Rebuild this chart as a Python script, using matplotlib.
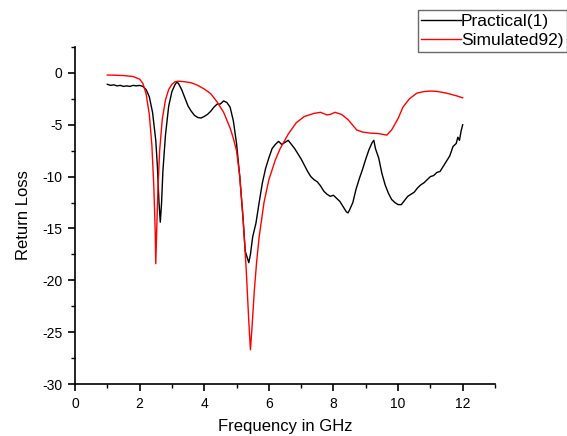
import matplotlib
matplotlib.use("Agg")
import matplotlib.pyplot as plt
from matplotlib.ticker import MultipleLocator

plt.rcParams['font.family'] = ['Liberation Sans', 'DejaVu Sans']
plt.rcParams['axes.unicode_minus'] = False

prac_x = [1.0, 1.1, 1.2, 1.3, 1.4, 1.5, 1.6, 1.7, 1.8, 1.9, 2.0, 2.1, 2.2, 2.3, 2.4, 2.5, 2.55, 2.6, 2.64,
          2.68, 2.72, 2.8, 2.9, 3.0, 3.1, 3.15, 3.2, 3.3, 3.4, 3.5, 3.6, 3.7, 3.8, 3.9, 4.0, 4.1, 4.2, 4.3,
          4.4, 4.5, 4.6, 4.7, 4.8, 4.9, 5.0, 5.1, 5.2, 5.27, 5.33, 5.38, 5.43, 5.5, 5.6, 5.7, 5.8, 5.9,
          6.0, 6.1, 6.2, 6.3, 6.4, 6.5, 6.6, 6.7, 6.8, 6.9, 7.0, 7.1, 7.2, 7.3, 7.4, 7.5, 7.6, 7.7, 7.8,
          7.9, 8.0, 8.1, 8.2, 8.3, 8.4, 8.45, 8.5, 8.6, 8.7, 8.8, 8.9, 9.0, 9.1, 9.2, 9.25, 9.3, 9.4,
          9.5, 9.6, 9.7, 9.8, 9.9, 10.0, 10.1, 10.2, 10.3, 10.4, 10.5, 10.6, 10.7, 10.8, 10.9, 11.0,
          11.1, 11.2, 11.3, 11.4, 11.5, 11.6, 11.7, 11.8, 11.85, 11.9, 11.95, 12.0]
prac_y = [-1.1, -1.2, -1.15, -1.25, -1.2, -1.3, -1.25, -1.3, -1.2, -1.25, -1.2, -1.3, -1.6, -2.3, -3.8,
          -6.5, -9.0, -12.5, -14.4, -12.5, -9.5, -6.0, -3.2, -1.8, -1.1, -0.9, -1.0, -1.6, -2.4, -3.2,
          -3.7, -4.1, -4.3, -4.35, -4.2, -4.0, -3.7, -3.3, -3.0, -3.0, -2.7, -2.85, -3.3, -4.6, -6.8,
          -10.0, -14.0, -17.2, -17.8, -18.3, -17.5, -15.8, -14.5, -12.5, -10.6, -9.2, -8.2, -7.3, -6.9,
          -6.6, -6.9, -6.7, -6.5, -6.9, -7.3, -7.8, -8.3, -8.9, -9.5, -10.0, -10.3, -10.5, -10.9, -11.4,
          -11.7, -11.9, -11.8, -12.1, -12.4, -12.9, -13.4, -13.5, -13.2, -12.5, -11.2, -10.2, -9.3,
          -8.3, -7.4, -6.7, -6.5, -7.3, -8.2, -9.7, -10.8, -11.6, -12.2, -12.5, -12.7, -12.7, -12.3,
          -11.9, -11.7, -11.5, -11.1, -10.8, -10.6, -10.3, -10.0, -9.9, -9.6, -9.5, -9.0, -8.5, -8.0,
          -7.1, -6.8, -6.2, -6.5, -5.6, -5.0]

sim_x = [1.0, 1.5, 1.8, 2.0, 2.1, 2.2, 2.3, 2.38, 2.44, 2.48, 2.5, 2.53, 2.57, 2.62, 2.7, 2.8, 2.9, 3.0,
         3.1, 3.2, 3.4, 3.6, 3.8, 4.0, 4.2, 4.4, 4.6, 4.8, 4.9, 5.0, 5.1, 5.2, 5.3, 5.38, 5.43, 5.48,
         5.55, 5.62, 5.7, 5.85, 6.0, 6.2, 6.35, 6.6, 6.85, 7.1, 7.4, 7.6, 7.8, 7.9, 8.05, 8.25, 8.45,
         8.72, 8.9, 9.12, 9.4, 9.65, 9.8, 10.0, 10.15, 10.35, 10.58, 10.8, 11.0, 11.2, 11.5, 11.8, 12.0]
sim_y = [-0.2, -0.25, -0.35, -0.6, -1.0, -2.0, -4.0, -7.0, -11.0, -15.0, -18.4, -15.0, -11.0, -7.5,
         -4.5, -2.6, -1.6, -1.1, -0.85, -0.8, -0.85, -0.95, -1.2, -1.55, -2.0, -2.8, -3.8, -5.3, -6.3,
         -7.5, -10.0, -13.9, -19.0, -24.0, -26.7, -24.5, -21.0, -18.3, -15.8, -12.5, -10.3, -8.4, -7.3,
         -5.9, -4.8, -4.2, -3.9, -3.8, -4.05, -4.0, -3.8, -4.0, -4.5, -5.5, -5.7, -5.8, -5.85, -6.0,
         -5.5, -4.4, -3.3, -2.5, -1.95, -1.8, -1.75, -1.78, -1.95, -2.2, -2.4]

fig = plt.figure(figsize=(5.67, 4.36), dpi=100)
ax = fig.add_axes([75/567, 1-384/436, 420/567, 337/436])

l1, = ax.plot(prac_x, prac_y, color='black', lw=1.0, label='Practical(1)')
l2, = ax.plot(sim_x, sim_y, color='red', lw=1.0, label='Simulated92)')

ax.set_xlim(0, 13)
ax.set_ylim(-30, 2.5)
ax.xaxis.set_minor_locator(MultipleLocator(1))
ax.yaxis.set_minor_locator(MultipleLocator(2.5))
ax.set_xticks([0, 2, 4, 6, 8, 10, 12])
ax.set_yticks([-30, -25, -20, -15, -10, -5, 0])
for s in ['top', 'right']:
    ax.spines[s].set_visible(False)
for s in ['left', 'bottom']:
    ax.spines[s].set_linewidth(1.2)
ax.tick_params(which='major', direction='out', length=5, width=1.2, labelsize=10, pad=4)
ax.tick_params(which='minor', direction='out', length=3, width=1.0)
ax.set_xlabel('Frequency in GHz', fontsize=12, labelpad=6)
ax.set_ylabel('Return Loss', fontsize=12, labelpad=8)

leg = fig.legend(handles=[l1, l2], loc='upper right', bbox_to_anchor=(1.0, 1 - 10/436),
                 fontsize=12.5, frameon=True, fancybox=False, handlelength=2.3, handletextpad=0.0,
                 borderpad=0.2, labelspacing=0.25, borderaxespad=0.0)
leg.get_frame().set_edgecolor('#444444')
leg.get_frame().set_linewidth(1.0)

fig.savefig('out.png', dpi=100)
